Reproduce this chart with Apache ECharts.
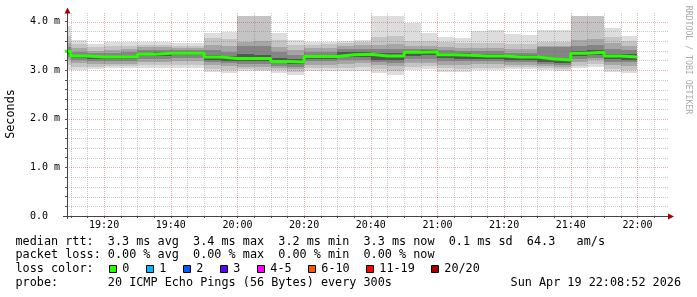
<!DOCTYPE html>
<html><head><meta charset="utf-8">
<script src="https://cdn.jsdelivr.net/npm/echarts@6/dist/echarts.min.js"></script>
<style>html,body{margin:0;padding:0;background:#fff}#c{width:697px;height:297px}</style>
</head><body><div id="c"></div>
<script>
// ---- data (5-minute bins, labelled by bin end time) ----
const binEnd = ['19:10','19:15','19:20','19:25','19:30','19:35','19:40','19:45','19:50','19:55',
  '20:00','20:05','20:10','20:15','20:20','20:25','20:30','20:35','20:40','20:45',
  '20:50','20:55','21:00','21:05','21:10','21:15','21:20','21:25','21:30','21:35',
  '21:40','21:45','21:50','21:55','22:00'];
// median rtt (ms)
const median = [3.39,3.29,3.27,3.27,3.27, 3.33,3.35,3.35,3.35,3.27, 3.24,3.24,3.24,3.18,3.17, 3.28,3.28,3.32,3.33,3.29, 3.29,3.37,3.38,3.32,3.31, 3.29,3.29,3.27,3.27,3.23, 3.21,3.35,3.37,3.29,3.27];
// sorted ping rtts (ms): p1 = fastest ... p20 = slowest
const p20 = [3.90,3.62,3.54,3.57,3.57, 3.59,3.58,3.55,3.55,3.77, 3.79,4.60,4.60,3.76,3.62, 3.59,3.59,3.61,3.62,4.50, 4.50,3.97,3.77,3.68,3.66, 3.81,3.83,3.74,3.72,3.82, 3.82,4.60,4.60,3.86,3.70];
const p18 = [3.70,3.54,3.48,3.50,3.50, 3.52,3.52,3.50,3.50,3.66, 3.64,4.30,4.30,3.62,3.52, 3.52,3.53,3.56,3.57,3.69, 3.70,3.60,3.60,3.57,3.56, 3.55,3.56,3.54,3.53,3.58, 3.58,4.40,4.40,3.69,3.60];
const p16 = [3.55,3.45,3.40,3.42,3.43, 3.47,3.47,3.45,3.46,3.52, 3.50,3.59,3.60,3.48,3.42, 3.45,3.46,3.50,3.51,3.52, 3.53,3.49,3.50,3.47,3.46, 3.45,3.46,3.44,3.44,3.49, 3.49,3.62,3.64,3.55,3.50];
const p14 = [3.47,3.38,3.35,3.36,3.37, 3.41,3.42,3.41,3.41,3.42, 3.38,3.50,3.50,3.38,3.32, 3.37,3.38,3.43,3.44,3.43, 3.44,3.43,3.44,3.41,3.40, 3.39,3.39,3.36,3.36,3.48, 3.47,3.50,3.52,3.43,3.41];
const p12 = [3.42,3.32,3.30,3.30,3.30, 3.36,3.38,3.38,3.38,3.32, 3.29,3.33,3.32,3.26,3.23, 3.32,3.32,3.37,3.38,3.36, 3.36,3.40,3.41,3.36,3.35, 3.33,3.33,3.31,3.31,3.25, 3.22,3.40,3.42,3.34,3.33];
const p9  = [3.33,3.25,3.23,3.23,3.23, 3.29,3.30,3.31,3.31,3.22, 3.19,3.18,3.18,3.14,3.12, 3.23,3.23,3.27,3.28,3.22, 3.22,3.30,3.31,3.25,3.24, 3.24,3.24,3.22,3.22,3.17, 3.14,3.29,3.31,3.23,3.22];
const p7  = [3.27,3.20,3.19,3.18,3.18, 3.24,3.24,3.25,3.26,3.17, 3.14,3.12,3.12,3.09,3.07, 3.18,3.18,3.21,3.22,3.16, 3.15,3.24,3.24,3.19,3.18, 3.19,3.19,3.17,3.17,3.13, 3.10,3.24,3.26,3.17,3.16];
const p5  = [3.20,3.14,3.12,3.13,3.13, 3.17,3.17,3.18,3.19,3.10, 3.08,3.06,3.06,3.04,3.02, 3.11,3.11,3.13,3.14,3.10, 3.08,3.15,3.15,3.11,3.10, 3.12,3.12,3.11,3.11,3.08, 3.06,3.17,3.20,3.10,3.09];
const p3  = [3.10,3.07,3.06,3.08,3.08, 3.10,3.10,3.10,3.11,3.03, 3.01,3.02,3.01,3.00,2.96, 3.05,3.05,3.05,3.06,3.02, 2.98,3.07,3.08,3.04,3.03, 3.05,3.05,3.06,3.06,3.04, 3.02,3.09,3.12,3.02,3.01];
const p1  = [3.00,3.00,3.02,3.04,3.04, 3.05,3.05,3.05,3.05,2.97, 2.95,2.98,2.98,2.95,2.90, 2.99,2.99,2.99,2.99,2.94, 2.90,3.00,3.02,2.97,2.97, 3.00,3.00,3.03,3.03,3.01, 2.99,3.04,3.07,2.96,2.94];

const xTickLabels = ['19:20','19:40','20:00','20:20','20:40','21:00','21:20','21:40','22:00'];
const yTickValues = [0,1,2,3,4];
const yTickLabels = ['0.0','1.0 m','2.0 m','3.0 m','4.0 m'];
const lossLabels = ['0','1','2','3','4-5','6-10','11-19','20/20'];
const lossColors = ['#26ff00','#00b8ff','#0059ff','#5e00ff','#ff00ff','#ff5500','#ff0000','#a10000'];
const textLines = [
  'median rtt:  3.3 ms avg  3.4 ms max  3.2 ms min  3.3 ms now  0.1 ms sd  64.3   am/s',
  'packet loss: 0.00 % avg  0.00 % max  0.00 % min  0.00 % now',
  'loss color:',
  'probe:       20 ICMP Echo Pings (56 Bytes) every 300s'
];
const stampText = 'Sun Apr 19 22:08:52 2026';
const creditText = 'RRDTOOL / TOBI OETIKER';
const yTitle = 'Seconds';

// ---- build ----
const toMin = s => { const [h, m] = s.split(':').map(Number); return h * 60 + m; };
const BIN = 5;
const xMin = toMin('19:08') + 52 / 60;
const xMax = xMin + 180;
const yMax = 200 / 48.6;

const shells = [[p1, p20], [p3, p18], [p5, p16], [p7, p14], [p9, p12]];
const shellColors = ['#dddddd', '#c4c4c4', '#a6a6a6', '#858585', '#555555'];
const smokeData = [];
shells.forEach(([lo, hi], s) => binEnd.forEach((e, k) => {
  const end = toMin(e);
  smokeData.push([end - BIN, end, lo[k], hi[k], s]);
}));
const medianData = binEnd.map((e, k) => [toMin(e) - BIN, median[k]]);
medianData.push([toMin(binEnd[binEnd.length - 1]), median[median.length - 1]]);

const xTickVals = xTickLabels.map(toMin);
const gridX = [];
for (let v = Math.ceil(xMin / 5) * 5; v < xMax; v += 5) gridX.push(v);
const gridY = [];
for (let i = 1; i <= 20; i++) gridY.push(Math.round(i * 2) / 10);
const gridData = [];
gridX.forEach(v => gridData.push([0, v, v % 20 === 0 ? 1 : 0]));
gridY.forEach(v => gridData.push([1, v, Math.abs(v - Math.round(v)) < 1e-6 ? 1 : 0]));
const yMinorTicks = [0].concat(gridY);

const MONO = '"DejaVu Sans Mono", monospace';
const chart = echarts.init(document.getElementById('c'), null, {renderer: 'canvas'});

const graphics = [];
graphics.push({type: 'line', z: 100, shape: {x1: 67.5, y1: 219, x2: 67.5, y2: 10}, style: {stroke: '#444', lineWidth: 1}});
graphics.push({type: 'line', z: 100, shape: {x1: 63, y1: 216.5, x2: 670, y2: 216.5}, style: {stroke: '#444', lineWidth: 1}});
graphics.push({type: 'polygon', z: 101, shape: {points: [[64.5, 13.5], [70.5, 13.5], [67.5, 7.5]]}, style: {fill: '#a00000'}});
graphics.push({type: 'polygon', z: 101, shape: {points: [[668, 213.5], [668, 219.5], [674, 216.5]]}, style: {fill: '#a00000'}});
graphics.push({type: 'text', z: 100, x: 11, y: 114, rotation: Math.PI / 2,
  style: {text: yTitle, font: '11.8px ' + MONO, fill: '#000', align: 'center', verticalAlign: 'middle'}});
graphics.push({type: 'text', z: 100, x: 688.5, y: 60, rotation: -Math.PI / 2,
  style: {text: creditText, font: '8.2px ' + MONO, fill: '#aaaaaa', align: 'center', verticalAlign: 'middle'}});
const lineY = [241.7, 254.7, 269.3, 283];
textLines.forEach((t, i) => graphics.push({type: 'text', z: 100, x: 15.5, y: lineY[i],
  style: {text: t, font: '11.8px ' + MONO, fill: '#000', align: 'left', verticalAlign: 'middle'}}));
graphics.push({type: 'text', z: 100, x: 681, y: lineY[3],
  style: {text: stampText, font: '11.8px ' + MONO, fill: '#000', align: 'right', verticalAlign: 'middle'}});
let bx = 108.7;
lossLabels.forEach((lab, i) => {
  graphics.push({type: 'rect', z: 100, shape: {x: Math.round(bx) + 0.5, y: 265.5, width: 7, height: 7},
    style: {fill: lossColors[i], stroke: '#000', lineWidth: 1}});
  graphics.push({type: 'text', z: 100, x: bx + 13.6, y: lineY[2],
    style: {text: lab, font: '11.8px ' + MONO, fill: '#000', align: 'left', verticalAlign: 'middle'}});
  bx += 30 + 7 * lab.length;
});

chart.setOption({
  animation: false,
  backgroundColor: '#fff',
  grid: {left: 67, top: 16, width: 600, height: 200},
  xAxis: {
    type: 'value', min: xMin, max: xMax,
    axisLine: {show: false}, splitLine: {show: false},
    axisTick: {show: true, customValues: gridX, length: 2, lineStyle: {color: '#555'}},
    axisLabel: {customValues: xTickVals, margin: 4, fontFamily: 'DejaVu Sans Mono', fontSize: 10, color: '#000',
      formatter: v => { const i = xTickVals.findIndex(t => Math.abs(t - v) < 1e-6); return i >= 0 ? xTickLabels[i] : ''; }}
  },
  yAxis: {
    type: 'value', min: 0, max: yMax,
    axisLine: {show: false}, splitLine: {show: false},
    axisTick: {show: true, customValues: yMinorTicks, length: 2, lineStyle: {color: '#555'}},
    axisLabel: {customValues: yTickValues, margin: 37, align: 'left', fontFamily: 'DejaVu Sans Mono', fontSize: 10, color: '#000',
      formatter: v => { const i = yTickValues.findIndex(t => Math.abs(t - v) < 1e-6); return i >= 0 ? yTickLabels[i] : ''; }}
  },
  graphic: graphics,
  series: [
    {
      type: 'custom', z: 2, silent: true,
      data: smokeData,
      renderItem: (params, api) => {
        const cs = params.coordSys;
        const a = api.coord([api.value(0), api.value(3)]);
        const b = api.coord([api.value(1), api.value(2)]);
        const x0 = Math.round(a[0]), x1 = Math.round(b[0]);
        const y0 = Math.round(a[1]), y1 = Math.round(b[1]);
        const r = echarts.graphic.clipRectByRect(
          {x: x0, y: y0, width: x1 - x0, height: y1 - y0},
          {x: cs.x, y: cs.y, width: cs.width, height: cs.height});
        if (!r) return;
        return {type: 'rect', shape: r, style: {fill: shellColors[api.value(4)]}};
      }
    },
    {
      type: 'custom', z: 3, silent: true,
      data: gridData,
      renderItem: (params, api) => {
        const cs = params.coordSys;
        const o = api.value(0), v = api.value(1), major = api.value(2);
        let shape;
        if (o === 0) {
          const x = Math.round(api.coord([v, 0])[0]) + 0.5;
          shape = {x1: x, y1: cs.y - 3, x2: x, y2: cs.y + cs.height};
        } else {
          const y = Math.round(api.coord([xMin, v])[1]) + 0.5;
          shape = {x1: cs.x, y1: y, x2: cs.x + cs.width + 1, y2: y};
        }
        return {type: 'line', shape,
          style: {stroke: major ? 'rgba(215,0,0,0.32)' : 'rgba(110,110,110,0.35)', lineWidth: 1, lineDash: [1, 1]}};
      }
    },
    {
      type: 'line', z: 4, silent: true, step: 'end', symbol: 'none',
      data: medianData,
      lineStyle: {color: '#26ff00', width: 3}
    }
  ]
});
</script></body></html>
